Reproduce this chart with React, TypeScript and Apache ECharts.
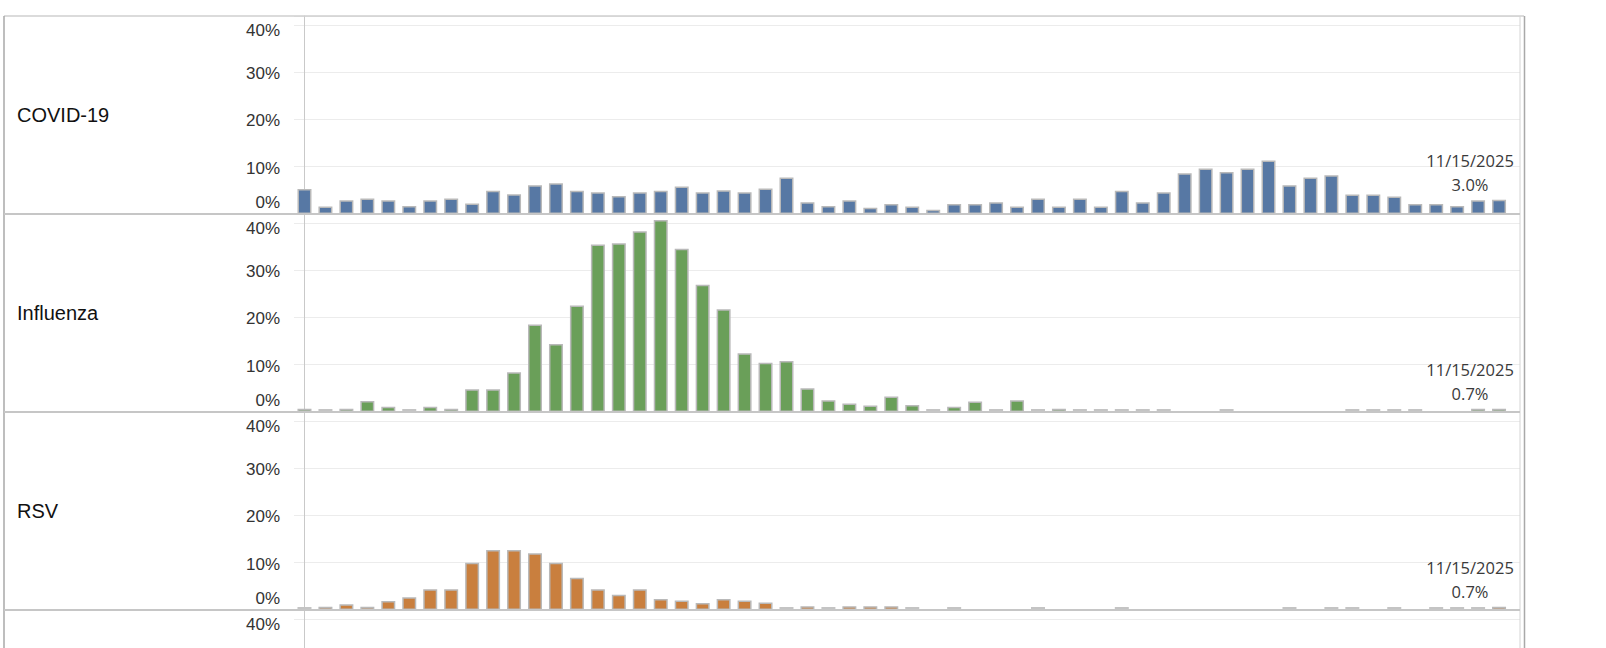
import React, { useEffect, useRef } from "react";
import * as echarts from "echarts";

// Week-ending dates (x categories)
const weeks: string[] = [
  "10/12/2024", "10/19/2024", "10/26/2024", "11/2/2024", "11/9/2024", "11/16/2024",
  "11/23/2024", "11/30/2024", "12/7/2024", "12/14/2024", "12/21/2024", "12/28/2024",
  "1/4/2025", "1/11/2025", "1/18/2025", "1/25/2025", "2/1/2025", "2/8/2025",
  "2/15/2025", "2/22/2025", "3/1/2025", "3/8/2025", "3/15/2025", "3/22/2025",
  "3/29/2025", "4/5/2025", "4/12/2025", "4/19/2025", "4/26/2025", "5/3/2025",
  "5/10/2025", "5/17/2025", "5/24/2025", "5/31/2025", "6/7/2025", "6/14/2025",
  "6/21/2025", "6/28/2025", "7/5/2025", "7/12/2025", "7/19/2025", "7/26/2025",
  "8/2/2025", "8/9/2025", "8/16/2025", "8/23/2025", "8/30/2025", "9/6/2025",
  "9/13/2025", "9/20/2025", "9/27/2025", "10/4/2025", "10/11/2025", "10/18/2025",
  "10/25/2025", "11/1/2025", "11/8/2025", "11/15/2025",
];

// Percent positive per week (null = no data)
const covid: (number | null)[] = [
  5.3, 1.6, 2.9, 3.3, 2.9, 1.7, 2.9, 3.3, 2.2, 4.9, 4.2, 6.1, 6.5, 4.9, 4.6, 3.8,
  4.6, 4.9, 5.8, 4.6, 5.0, 4.6, 5.4, 7.7, 2.5, 1.7, 2.9, 1.3, 2.1, 1.6, 0.9, 2.1,
  2.1, 2.5, 1.6, 3.3, 1.6, 3.3, 1.6, 4.9, 2.5, 4.6, 8.6, 9.6, 8.9, 9.6, 11.3, 6.1,
  7.7, 8.2, 4.1, 4.1, 3.7, 2.1, 2.1, 1.7, 2.9, 3.0,
];

const influenza: (number | null)[] = [
  0.7, 0, 0.7, 2.3, 1.1, 0, 1.1, 0.7, 4.8, 4.8, 8.4, 18.5, 14.4, 22.5, 35.4, 35.7,
  38.2, 40.6, 34.5, 26.9, 21.7, 12.4, 10.4, 10.8, 5.0, 2.5, 1.8, 1.4, 3.3, 1.5, 0, 1.1,
  2.2, 0, 2.5, 0, 0.7, 0, 0, 0, 0, 0, null, null, 0, null, null, null,
  null, null, 0, 0, 0, 0, null, null, 0.7, 0.7,
];

const rsv: (number | null)[] = [
  0, 0.7, 1.2, 0.7, 1.9, 2.7, 4.4, 4.4, 10.0, 12.7, 12.7, 12.0, 10.0, 6.8, 4.4, 3.2,
  4.4, 2.3, 2.0, 1.5, 2.3, 2.0, 1.6, 0, 0.8, 0, 0.8, 0.8, 0.8, 0, null, 0,
  null, null, null, 0, null, null, null, 0, null, null, null, null, null, null, null, 0,
  null, 0, 0, null, 0, null, 0, 0, 0, 0.7,
];

const panelNames: string[] = ["COVID-19", "Influenza", "RSV"];
const panelColors: string[] = ["#5778a4", "#6a9f59", "#c97f3e"];
const yTicks: number[] = [0, 10, 20, 30, 40];

const W = 1606;
const H = 648;
const TOP = 16;
const PANEL_H = 198;
const N_PANELS = 4;
const CHART_H = TOP + N_PANELS * PANEL_H + 4;
const LEFT = 294;
const RIGHT_X = 1520;
const Y_MAX = 41.86;

export default function App() {
  const ref = useRef<HTMLDivElement>(null);

  useEffect(() => {
    document.body.style.margin = "0";
    if (!ref.current) return;
    const chart = echarts.init(ref.current, undefined, { renderer: "svg", width: W, height: CHART_H });

    const seriesData = [covid, influenza, rsv];
    const grids: any[] = [];
    const xAxes: any[] = [];
    const yAxes: any[] = [];
    const tickFont = { fontSize: 17, fontFamily: "Liberation Sans, Arial, sans-serif", color: "#333" };

    for (let p = 0; p < N_PANELS; p++) {
      const panelTop = TOP + p * PANEL_H;
      grids.push({ left: LEFT, width: RIGHT_X - LEFT, top: panelTop, height: PANEL_H });
      xAxes.push({
        type: "value", gridIndex: p, min: -0.5, max: weeks.length, show: false,
      });
      yAxes.push({
        type: "value", gridIndex: p, min: 0, max: Y_MAX, interval: 10,
        axisLine: { show: true, lineStyle: { color: "#c9c9c9", width: 1 } },
        axisTick: { show: false },
        splitLine: { show: true, lineStyle: { color: "#ececec", width: 1 } },
        axisLabel: {
          margin: 14,
          ...tickFont,
          formatter: (v: number) => {
            if (!yTicks.includes(v)) return "";
            // only draw labels that fall inside the visible page
            const yPix = panelTop + PANEL_H - (v / Y_MAX) * PANEL_H;
            if (yPix > H - 12) return "";
            if (v === 0) return `{lo|${v}%}`;
            if (v === 40) return `{hi|${v}%}`;
            return `{mid|${v}%}`;
          },
          rich: {
            lo: { ...tickFont, padding: [0, 0, 24, 0] },
            hi: { ...tickFont, padding: [12, 0, 0, 0] },
            mid: { ...tickFont, padding: [3, 0, 0, 0] },
          },
        },
      });
    }

    const series: any[] = seriesData.map((vals, p) => {
      const last = vals.length - 1;
      const data: any[] = [];
      vals.forEach((v, i) => {
        if (v === null) return;
        const item: any = { value: [i, v] };
        if (v === 0) {
          item.itemStyle = { color: "#c4c4c4", borderColor: "#c4c4c4" };
        }
        if (i === last) {
          item.label = {
            show: true,
            position: "top",
            distance: 3,
            offset: [-29, 0],
            align: "center",
            formatter: `${weeks[i]}\n${v.toFixed(1)}%`,
            fontSize: 16.5,
            lineHeight: 24,
            fontFamily: "Open Sans, Noto Sans, sans-serif",
            color: "#3a3a3a",
          };
        }
        data.push(item);
      });
      return {
        type: "bar",
        name: panelNames[p],
        xAxisIndex: p,
        yAxisIndex: p,
        barWidth: 14,
        barMinHeight: 3,
        itemStyle: { color: panelColors[p], borderColor: "#b9b9b9", borderWidth: 1.5 },
        data,
      };
    });

    const graphics: any[] = [];
    const line = (x1: number, y1: number, x2: number, y2: number, color: string, w: number) => ({
      type: "line",
      silent: true,
      z: 100,
      shape: { x1, y1, x2, y2 },
      style: { stroke: color, lineWidth: w },
    });
    graphics.push(line(4, TOP, 1524, TOP, "#cfcfcf", 1.5));
    graphics.push(line(4, TOP, 4, CHART_H, "#a9a9a9", 1.5));
    graphics.push(line(RIGHT_X, TOP, RIGHT_X, CHART_H, "#d4d4d4", 1));
    graphics.push(line(1524.5, TOP, 1524.5, CHART_H, "#a9a9a9", 1.5));
    for (let p = 1; p < N_PANELS; p++) {
      const y = TOP + p * PANEL_H;
      graphics.push(line(4, y, RIGHT_X, y, "#c6c6c6", 2));
    }
    panelNames.forEach((name, p) => {
      graphics.push({
        type: "text",
        x: 17,
        y: TOP + p * PANEL_H + PANEL_H / 2,
        z: 100,
        style: {
          text: name,
          fontSize: 20,
          fontFamily: "Liberation Sans, Arial, sans-serif",
          fill: "#111",
          textVerticalAlign: "middle",
          verticalAlign: "middle",
        },
      });
    });

    chart.setOption({
      animation: false,
      backgroundColor: "#ffffff",
      grid: grids,
      xAxis: xAxes,
      yAxis: yAxes,
      series,
      graphic: graphics,
    });

    return () => chart.dispose();
  }, []);

  return (
    <div style={{ position: "absolute", left: 0, top: 0, width: W, height: H, overflow: "hidden", background: "#fff" }}>
      <div ref={ref} style={{ width: W, height: CHART_H }} />
    </div>
  );
}
